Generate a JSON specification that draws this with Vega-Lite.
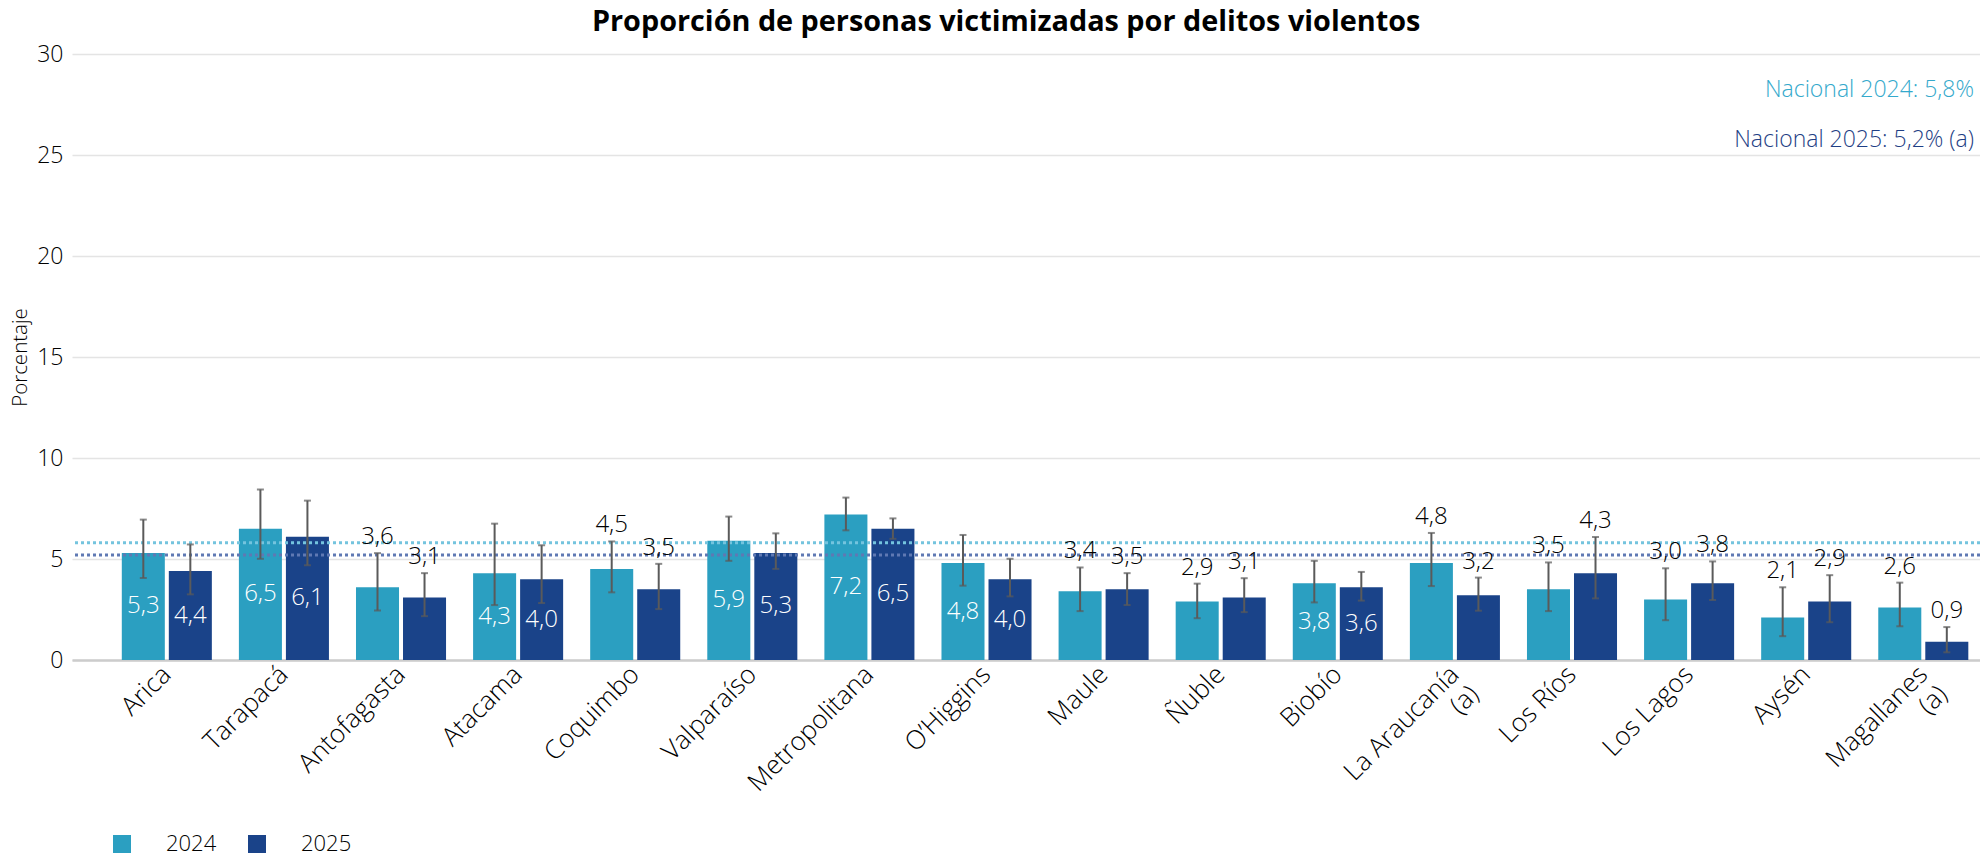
{
  "$schema": "https://vega.github.io/schema/vega-lite/v6.json",
  "width": 1908,
  "height": 606,
  "autosize": {"type": "none"},
  "padding": {"left": 72, "top": 54, "right": 0, "bottom": 197},
  "background": "white",
  "config": {
    "font": "Open Sans",
    "view": {"stroke": null},
    "locale": {"number": {"decimal": ",", "thousands": ".", "grouping": [3], "currency": ["$", ""]}}
  },
  "title": {
    "text": "Proporción de personas victimizadas por delitos violentos",
    "fontSize": 28.8,
    "fontWeight": "bold",
    "color": "#000000",
    "anchor": "middle",
    "frame": "bounds",
    "offset": 6,
    "dx": 10
  },
  "data": {
    "values": [
      {"region": "Arica", "anio": "2024", "valor": 5.3, "inf": 4.06, "sup": 6.95},
      {"region": "Arica", "anio": "2025", "valor": 4.4, "inf": 3.25, "sup": 5.72},
      {"region": "Tarapacá", "anio": "2024", "valor": 6.5, "inf": 5.01, "sup": 8.44},
      {"region": "Tarapacá", "anio": "2025", "valor": 6.1, "inf": 4.69, "sup": 7.89},
      {"region": "Antofagasta", "anio": "2024", "valor": 3.6, "inf": 2.45, "sup": 5.29},
      {"region": "Antofagasta", "anio": "2025", "valor": 3.1, "inf": 2.17, "sup": 4.3},
      {"region": "Atacama", "anio": "2024", "valor": 4.3, "inf": 2.72, "sup": 6.75},
      {"region": "Atacama", "anio": "2025", "valor": 4.0, "inf": 2.82, "sup": 5.68},
      {"region": "Coquimbo", "anio": "2024", "valor": 4.5, "inf": 3.35, "sup": 5.87},
      {"region": "Coquimbo", "anio": "2025", "valor": 3.5, "inf": 2.52, "sup": 4.76},
      {"region": "Valparaíso", "anio": "2024", "valor": 5.9, "inf": 4.91, "sup": 7.1},
      {"region": "Valparaíso", "anio": "2025", "valor": 5.3, "inf": 4.51, "sup": 6.27},
      {"region": "Metropolitana", "anio": "2024", "valor": 7.2, "inf": 6.42, "sup": 8.04},
      {"region": "Metropolitana", "anio": "2025", "valor": 6.5, "inf": 6.0, "sup": 7.01},
      {"region": "O’Higgins", "anio": "2024", "valor": 4.8, "inf": 3.68, "sup": 6.19},
      {"region": "O’Higgins", "anio": "2025", "valor": 4.0, "inf": 3.15, "sup": 5.01},
      {"region": "Maule", "anio": "2024", "valor": 3.4, "inf": 2.42, "sup": 4.58},
      {"region": "Maule", "anio": "2025", "valor": 3.5, "inf": 2.72, "sup": 4.3},
      {"region": "Ñuble", "anio": "2024", "valor": 2.9, "inf": 2.07, "sup": 3.78},
      {"region": "Ñuble", "anio": "2025", "valor": 3.1, "inf": 2.37, "sup": 4.05},
      {"region": "Biobío", "anio": "2024", "valor": 3.8, "inf": 2.85, "sup": 4.91},
      {"region": "Biobío", "anio": "2025", "valor": 3.6, "inf": 2.94, "sup": 4.36},
      {"region": "La Araucanía (a)", "anio": "2024", "valor": 4.8, "inf": 3.66, "sup": 6.29},
      {"region": "La Araucanía (a)", "anio": "2025", "valor": 3.2, "inf": 2.44, "sup": 4.08},
      {"region": "Los Ríos", "anio": "2024", "valor": 3.5, "inf": 2.42, "sup": 4.83},
      {"region": "Los Ríos", "anio": "2025", "valor": 4.3, "inf": 3.05, "sup": 6.09},
      {"region": "Los Lagos", "anio": "2024", "valor": 3.0, "inf": 1.97, "sup": 4.54},
      {"region": "Los Lagos", "anio": "2025", "valor": 3.8, "inf": 2.97, "sup": 4.88},
      {"region": "Aysén", "anio": "2024", "valor": 2.1, "inf": 1.18, "sup": 3.6},
      {"region": "Aysén", "anio": "2025", "valor": 2.9, "inf": 1.87, "sup": 4.2},
      {"region": "Magallanes (a)", "anio": "2024", "valor": 2.6, "inf": 1.67, "sup": 3.83},
      {"region": "Magallanes (a)", "anio": "2025", "valor": 0.9, "inf": 0.38, "sup": 1.63}
    ]
  },
  "layer": [
    {
      "layer": [
        {
          "mark": {"type": "bar"},
          "encoding": {
            "x": {
              "field": "region", "type": "nominal", "sort": null, "title": null,
              "scale": {"paddingInner": 0.231, "paddingOuter": 0.2625, "align": 0.81},
              "axis": {
                "labelAngle": -45,
                "labelAlign": "right",
                "labelBaseline": "middle",
                "labelFontSize": 26,
                "labelFontWeight": 300,
                "labelColor": "#000000",
                "labelPadding": 10,
                "ticks": false,
                "domainColor": "#cccccc",
                "domainWidth": 2.5,
                "labelExpr": "indexof(datum.label, ' (a)') > 0 ? [replace(datum.label, ' (a)', ''), '(a)'] : datum.label"
              }
            },
            "xOffset": {"field": "anio", "type": "nominal", "scale": {"paddingInner": 0.085, "paddingOuter": 0}},
            "y": {
              "field": "valor", "type": "quantitative", "title": "Porcentaje",
              "scale": {"domain": [0, 30], "nice": false},
              "axis": {
                "values": [0, 5, 10, 15, 20, 25, 30],
                "grid": true, "gridColor": "#e4e4e4", "gridWidth": 1.5,
                "domain": false, "ticks": false,
                "labelFontSize": 23, "labelFontWeight": 300, "labelPadding": 9, "labelColor": "#000000",
                "titleFontSize": 20.5, "titleFontWeight": 300, "titleColor": "#000000", "titlePadding": 6
              }
            },
            "color": {
              "field": "anio", "type": "nominal",
              "scale": {"domain": ["2024", "2025"], "range": ["#2b9fc1", "#1a4389"]},
              "legend": {
                "orient": "none", "legendX": 39, "legendY": 779,
                "direction": "horizontal", "title": null,
                "symbolType": "square", "symbolSize": 324, "symbolStrokeWidth": 0,
                "labelFontSize": 22, "labelFontWeight": 300, "labelOffset": 33, "columnPadding": 29, "labelColor": "#000000"
              }
            }
          }
        },
        {
          "data": {"values": [{"nacional": 5.8}]},
          "mark": {"type": "rule", "color": "#74c4de", "strokeWidth": 3, "strokeDash": [3, 3]},
          "encoding": {"y": {"field": "nacional", "type": "quantitative"}}
        },
        {
          "data": {"values": [{"nacional": 5.2}]},
          "mark": {"type": "rule", "color": "#5f79b3", "strokeWidth": 3, "strokeDash": [3, 3]},
          "encoding": {"y": {"field": "nacional", "type": "quantitative"}}
        },
        {
          "mark": {"type": "rule", "color": "#5a5a5a", "strokeWidth": 2},
          "encoding": {
            "x": {"field": "region", "type": "nominal", "sort": null},
            "xOffset": {"field": "anio", "type": "nominal"},
            "y": {"field": "inf", "type": "quantitative"},
            "y2": {"field": "sup"}
          }
        },
        {
          "mark": {"type": "tick", "color": "#5a5a5a", "thickness": 2, "size": 7, "orient": "horizontal"},
          "encoding": {
            "x": {"field": "region", "type": "nominal", "sort": null},
            "xOffset": {"field": "anio", "type": "nominal"},
            "y": {"field": "sup", "type": "quantitative"}
          }
        },
        {
          "mark": {"type": "tick", "color": "#5a5a5a", "thickness": 2, "size": 7, "orient": "horizontal"},
          "encoding": {
            "x": {"field": "region", "type": "nominal", "sort": null},
            "xOffset": {"field": "anio", "type": "nominal"},
            "y": {"field": "inf", "type": "quantitative"}
          }
        },
        {
          "transform": [{"filter": "indexof(['Arica','Tarapacá','Atacama','Valparaíso','Metropolitana','O’Higgins','Biobío'], datum.region) < 0"}],
          "mark": {"type": "text", "baseline": "alphabetic", "dy": -9, "fontSize": 24, "fontWeight": 300, "color": "#000000"},
          "encoding": {
            "x": {"field": "region", "type": "nominal", "sort": null},
            "xOffset": {"field": "anio", "type": "nominal"},
            "y": {"field": "sup", "type": "quantitative"},
            "text": {"field": "valor", "type": "quantitative", "format": ".1f"}
          }
        },
        {
          "data": {"values": [{"texto": "Nacional 2024: 5,8%", "posicion": 28.23}]},
          "mark": {"type": "text", "align": "right", "baseline": "middle", "dx": -6, "fontSize": 23, "fontWeight": 300, "color": "#34a9cc"},
          "encoding": {
            "x": {"value": "width"},
            "y": {"field": "posicion", "type": "quantitative"},
            "text": {"field": "texto"}
          }
        },
        {
          "data": {"values": [{"texto": "Nacional 2025: 5,2% (a)", "posicion": 25.75}]},
          "mark": {"type": "text", "align": "right", "baseline": "middle", "dx": -6, "fontSize": 23, "fontWeight": 300, "color": "#1f3f85"},
          "encoding": {
            "x": {"value": "width"},
            "y": {"field": "posicion", "type": "quantitative"},
            "text": {"field": "texto"}
          }
        }
      ]
    },
    {
      "transform": [{"filter": "indexof(['Arica','Tarapacá','Atacama','Valparaíso','Metropolitana','O’Higgins','Biobío'], datum.region) >= 0"}],
      "mark": {"type": "text", "baseline": "middle", "fontSize": 24, "fontWeight": 300, "color": "#ffffff"},
      "encoding": {
        "x": {"field": "region", "type": "nominal", "sort": null},
        "xOffset": {"field": "anio", "type": "nominal"},
        "y": {"field": "valor", "type": "quantitative", "scale": {"domain": [0, 60], "nice": false}, "axis": null},
        "text": {"field": "valor", "type": "quantitative", "format": ".1f"}
      }
    }
  ],
  "resolve": {"scale": {"y": "independent"}}
}
